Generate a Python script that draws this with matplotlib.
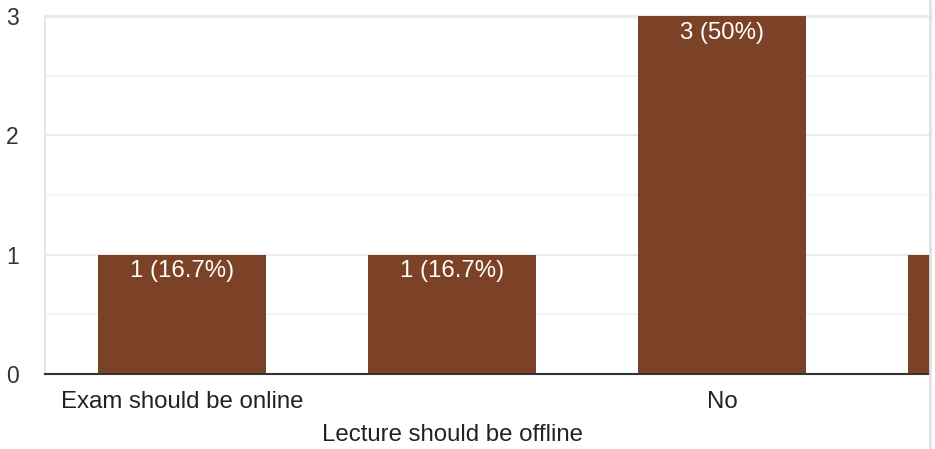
import matplotlib.pyplot as plt
from matplotlib.lines import Line2D

categories = ["Exam should be online", "Lecture should be offline", "No", "Yes"]
counts = [1, 1, 3, 1]
y_ticks = [0, 1, 2, 3]

plt.rcParams['font.family'] = ['Liberation Sans', 'DejaVu Sans']

total = sum(counts)
bar_color = "#7c4228"

fig = plt.figure(figsize=(9.35, 4.49), dpi=100)
ax = fig.add_axes([45 / 935, 75 / 449, 885 / 935, 358 / 449])

x = list(range(len(categories)))
bars = ax.bar(x, counts, width=0.62, color=bar_color, zorder=3)

ax.set_yticks(y_ticks)
ax.set_yticks([0.5, 1.5, 2.5], minor=True)
ax.set_xticks(x)
ax.set_xticklabels(categories)
# only part of the chart is visible (cropped on the right)
ax.set_xlim(-0.508, 2.77)
ax.set_ylim(0, 3)

# labels inside the top of each bar
for xi, c in zip(x, counts):
    pct = round(c / total * 100, 1)
    ax.annotate(f"{c} ({pct:g}%)", (xi, c), xytext=(0, -4), textcoords="offset points",
                ha="center", va="top", color="white", fontsize=17.3, zorder=4,
                annotation_clip=True)

ax.tick_params(axis="y", which="both", length=0, pad=19, labelsize=16.5, labelcolor="#333333")
ax.tick_params(axis="x", length=0, labelsize=17.3, labelcolor="#222222")
for i, t in enumerate(ax.xaxis.get_major_ticks()):
    t.set_pad(12 if i % 2 == 0 else 36)

ax.grid(axis="y", which="major", color="#ebebeb", lw=1.5, zorder=0)
ax.grid(axis="y", which="minor", color="#f4f4f4", lw=1.5, zorder=0)
ax.axhline(3, color="#ebebeb", lw=2.5, zorder=1, clip_on=False)

ax.spines["top"].set_visible(False)
ax.spines["right"].set_visible(False)
ax.spines["left"].set_color("#e6e6e6")
ax.spines["left"].set_linewidth(1.5)
ax.spines["bottom"].set_color("#333333")
ax.spines["bottom"].set_linewidth(1.5)
ax.spines["bottom"].set_zorder(5)

fig.add_artist(Line2D([930 / 935] * 2, [0, 1], color="#e2e2e2", lw=2))

fig.savefig("out.png", dpi=100)
